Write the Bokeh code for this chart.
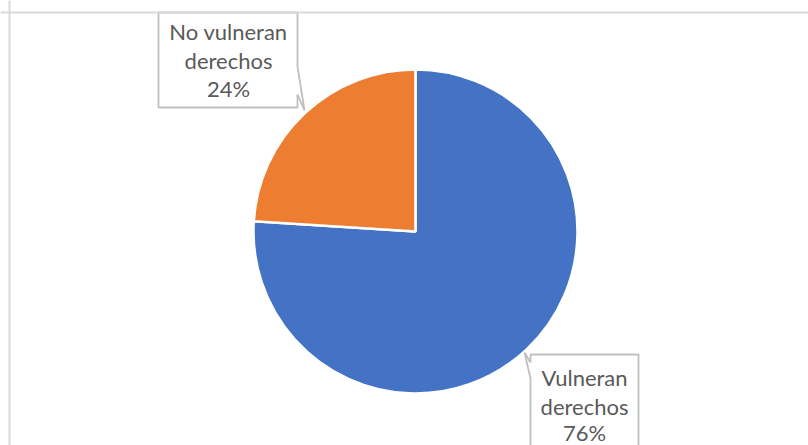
import numpy as np
from bokeh.plotting import figure
from bokeh.models import Range1d, Span, ColumnDataSource
from bokeh.core.properties import value
from bokeh.embed import file_html
from bokeh.resources import INLINE

# ---- data ----
categories = ["Vulneran derechos", "No vulneran derechos"]
shares = [76, 24]
label_lines = [["Vulneran", "derechos", "76%"], ["No vulneran", "derechos", "24%"]]
colors = ["#4472C4", "#ED7D31"]

W, H = 808, 445
p = figure(width=W, height=H, output_backend="svg", toolbar_location=None,
           x_range=Range1d(0, W), y_range=Range1d(0, H), min_border=0,
           outline_line_color=None, background_fill_color="white", border_fill_color="white")
p.axis.visible = False
p.grid.visible = False

def px(xp):
    return xp

def py(yp):
    return H - yp

# chart border (top and left only visible)
p.add_layout(Span(location=py(12), dimension="width", line_color="#D9D9D9", line_width=2))
p.add_layout(Span(location=px(9), dimension="height", line_color="#D9D9D9", line_width=2))

# pie: blue starts at 12 o'clock going clockwise
cx, cy, r = px(415), py(231), 162
fr = np.array(shares, dtype=float) / sum(shares)
cur = np.pi / 2
ends, starts = [], []
for f in fr:
    starts.append(cur - 2 * np.pi * f)
    ends.append(cur)
    cur -= 2 * np.pi * f
src = ColumnDataSource(dict(x=[cx] * len(shares), y=[cy] * len(shares),
                            start=starts, end=ends, color=colors))
p.wedge(x="x", y="y", radius=r, start_angle="start", end_angle="end",
        fill_color="color", line_color="white", line_width=2.5, source=src)

# callout boxes (layout positions)
box_style = dict(fill_color="white", line_color="#BFBFBF", line_width=1.8)
tl = [(158, 12), (297, 12), (297, 66), (304, 110), (297, 94), (297, 107), (158, 107)]
p.patch([px(a) for a, b in tl], [py(b) for a, b in tl], **box_style)
br = [(530, 354), (638, 354), (638, 470), (530, 470), (530, 378), (524, 352), (530, 362)]
p.patch([px(a) for a, b in br], [py(b) for a, b in br], **box_style)

text_style = dict(text_font=value("Lato"), text_font_size="22px", text_color="#595959",
                  text_align="center", text_baseline="middle")
anchors = [(584, [377, 406, 432]), (228, [31, 60, 88])]
for lines, (ax, ys) in zip(label_lines, anchors):
    p.text(x=[px(ax)] * 3, y=[py(v) for v in ys], text=lines, **text_style)

open("out.html", "w").write(file_html(p, INLINE))
